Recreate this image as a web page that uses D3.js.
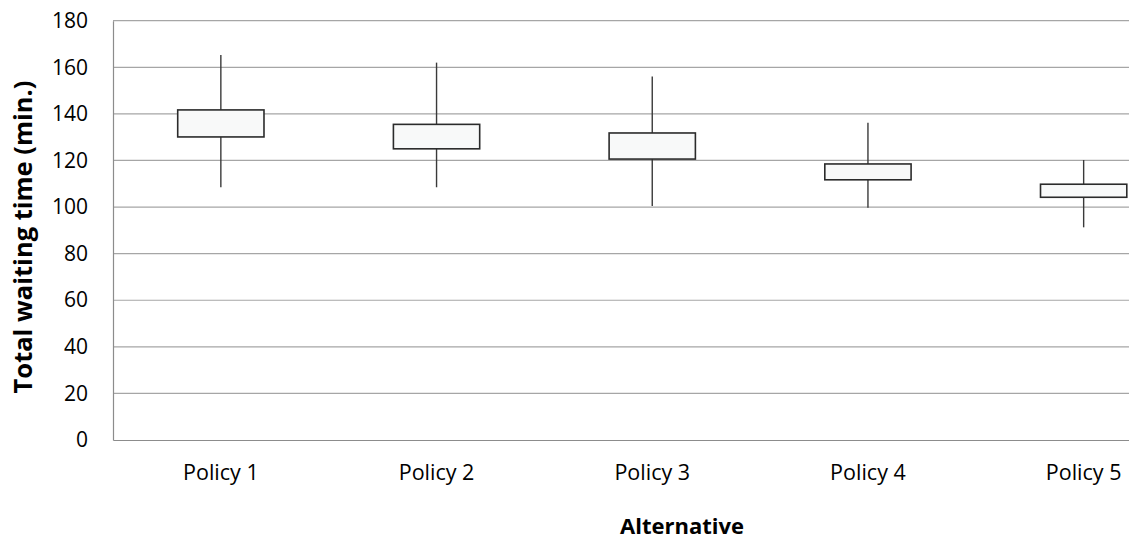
<!DOCTYPE html>
<html>
<head>
<meta charset="utf-8">
<script src="https://cdn.jsdelivr.net/npm/d3@7"></script>
<style>
  html, body { margin: 0; padding: 0; background: #fff; }
  svg { display: block; overflow: hidden; }
  text { font-family: "Open Sans", "Noto Sans", sans-serif; fill: #000; }
</style>
</head>
<body>
<svg id="chart" width="1129" height="540"></svg>
<script>
const categories = ["Policy 1", "Policy 2", "Policy 3", "Policy 4", "Policy 5"];
const highValues = [165.3, 162.0, 156.0, 136.2, 120.2];
const boxTopValues = [141.7, 135.5, 131.8, 118.5, 109.8];
const boxBottomValues = [130.1, 125.0, 120.6, 111.7, 104.2];
const lowValues = [108.5, 108.5, 100.4, 99.7, 91.3];
const yTicks = [0, 20, 40, 60, 80, 100, 120, 140, 160, 180];
const yTitle = "Total waiting time (min.)";
const xTitle = "Alternative";

const data = categories.map((c, i) => ({
  cat: c, high: highValues[i], boxTop: boxTopValues[i], boxBottom: boxBottomValues[i], low: lowValues[i]
}));

const svg = d3.select("#chart");
const plotLeft = 113, plotTop = 20.7, plotBottom = 440, plotRight = 113 + 5 * 215.7;

const x = d3.scaleBand().domain(categories).range([plotLeft, plotRight]).padding(0);
const y = d3.scaleLinear().domain([0, 180]).range([plotBottom, plotTop]);

// gridlines
svg.append("g")
  .selectAll("line").data(yTicks.filter(t => t > 0)).join("line")
  .attr("x1", plotLeft).attr("x2", plotRight)
  .attr("y1", d => y(d)).attr("y2", d => y(d))
  .attr("stroke", "#a6a6a6").attr("stroke-width", 1.2);

// y axis
const yAxis = svg.append("g").attr("transform", `translate(${plotLeft},0)`)
  .call(d3.axisLeft(y).tickValues(yTicks).tickSize(0).tickPadding(25));
yAxis.select(".domain").attr("stroke", "#8c8c8c").attr("stroke-width", 1.2);
yAxis.selectAll("text").attr("font-size", 21).attr("font-family", "'Open Sans', sans-serif").attr("fill", "#1a1a1a");

// x axis
const xAxis = svg.append("g").attr("transform", `translate(0,${plotBottom})`)
  .call(d3.axisBottom(x).tickSize(0).tickPadding(25));
xAxis.select(".domain").attr("stroke", "#8c8c8c").attr("stroke-width", 1.2);
xAxis.selectAll("text").attr("font-size", 21.5).attr("font-family", "'Open Sans', sans-serif").attr("fill", "#1a1a1a");

// whiskers
const bw = x.bandwidth() * 0.4;
svg.append("g").selectAll("line").data(data).join("line")
  .attr("x1", d => x(d.cat) + x.bandwidth() / 2)
  .attr("x2", d => x(d.cat) + x.bandwidth() / 2)
  .attr("y1", d => y(d.high)).attr("y2", d => y(d.low))
  .attr("stroke", "#3a3a3a").attr("stroke-width", 1.4);

// boxes
svg.append("g").selectAll("rect").data(data).join("rect")
  .attr("x", d => x(d.cat) + x.bandwidth() / 2 - bw / 2)
  .attr("width", bw)
  .attr("y", d => y(d.boxTop))
  .attr("height", d => y(d.boxBottom) - y(d.boxTop))
  .attr("fill", "#f8f9f9").attr("stroke", "#2b2b2b").attr("stroke-width", 1.6);

// axis titles
svg.append("text")
  .attr("transform", `translate(32,237) rotate(-90)`)
  .attr("text-anchor", "middle")
  .attr("font-size", 25.5).attr("font-weight", "bold")
  .text(yTitle);

svg.append("text")
  .attr("x", 682).attr("y", 534)
  .attr("text-anchor", "middle")
  .attr("font-size", 22).attr("font-weight", "bold")
  .text(xTitle);
</script>
</body>
</html>
